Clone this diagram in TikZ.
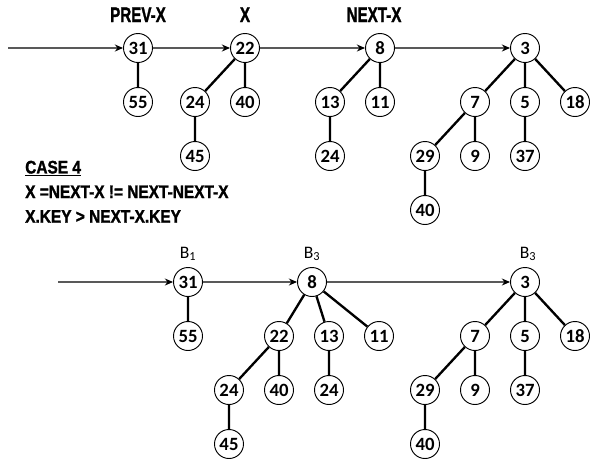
\documentclass[tikz,border=0pt]{standalone}
\usepackage{fontspec}
\setmainfont{Carlito}
\newfontfamily\impactfont{Liberation Sans}[BoldFeatures={FakeBold=1.6}]
\usetikzlibrary{arrows.meta}
\newcommand\squeeze[2]{\scalebox{#1}[1]{#2}}

\begin{document}
\begin{tikzpicture}[
        x=0.03cm, y=-0.03cm,
        key/.style={circle, draw, line width=0.8pt, minimum size=0.87cm, inner sep=0pt,
          font=\bfseries\fontsize{16}{18}\selectfont},
        tag/.style={anchor=base, inner sep=0pt, font=\impactfont\bfseries\fontsize{18}{20}\selectfont},
        blabel/.style={anchor=base, inner sep=0pt, font=\fontsize{15}{17}\selectfont},
        link/.style={draw=black!65, line width=1pt, -{Stealth[black, length=7pt, width=6pt]}},
        edge from parent/.style={draw, line width=2pt},
        sibling distance=1.5cm, level distance=1.62cm
      ]
        \useasboundingbox (0,0) rectangle (598,467);

        \node[key] (p31) at (138,48) {31}
          child { node[key] (p55) {55} };
        \node[key] (x22) at (245,48) {22}
          child {
            node[key] (x24) {24}
            child { node[key] (x45) {45} }
          }
          child { node[key] (x40) {40} }
          child[missing];
        \node[key] (n8) at (380,48) {8}
          child {
            node[key] (n13) {13}
            child { node[key] (n24) {24} }
          }
          child { node[key] (n11) {11} }
          child[missing];
        \node[key] (t3) at (525,48) {3}
          child {
            node[key] (t7) {7}
            child {
              node[key] (t29) {29}
              child { node[key] (t40) {40} }
            }
            child { node[key] (t9) {9} }
            child[missing]
          }
          child {
            node[key] (t5) {5}
            child { node[key] (t37) {37} }
          }
          child { node[key] (t18) {18} };

        \node[tag] (lprev) at (138,22) {\squeeze{0.72}{PREV-X}};
        \node[tag] (lx) at (245,22) {\squeeze{0.72}{X}};
        \node[tag] (lnext) at (374,22) {\squeeze{0.72}{NEXT-X}};

        \coordinate (in1) at (8,48);
        \draw[link] (in1) -- (p31);
        \draw[link] (p31) -- (x22);
        \draw[link] (x22) -- (n8);
        \draw[link] (n8) -- (t3);

        \node[anchor=north west, inner sep=0pt, font=\impactfont\bfseries\fontsize{15.5}{21}\selectfont] (case)
          at (25,156) {\squeeze{0.85}{\begin{tabular}{@{}l@{}} \underline{CASE 4} \\ X =NEXT-X != NEXT-NEXT-X \\ X.KEY > NEXT-X.KEY \end{tabular}}};

        \node[key] (b31) at (188,282) {31}
          child { node[key] (b55) {55} };
        \node[key] (b8) at (312,282) {8}
          child[xshift=0.51cm] {
            node[key] (b22) {22}
            child {
              node[key] (b24) {24}
              child { node[key] (b45) {45} }
            }
            child { node[key] (b40) {40} }
            child[missing]
          }
          child[xshift=0.51cm] {
            node[key] (b13) {13}
            child { node[key] (b24b) {24} }
          }
          child[xshift=0.51cm] { node[key] (b11) {11} };
        \node[key] (c3) at (525,282) {3}
          child {
            node[key] (c7) {7}
            child {
              node[key] (c29) {29}
              child { node[key] (c40) {40} }
            }
            child { node[key] (c9) {9} }
            child[missing]
          }
          child {
            node[key] (c5) {5}
            child { node[key] (c37) {37} }
          }
          child { node[key] (c18) {18} };

        \node[blabel] (lb1) at (188,258) {B\textsubscript{1}};
        \node[blabel] (lb3) at (312,258) {B\textsubscript{3}};
        \node[blabel] (lc3) at (528,258) {B\textsubscript{3}};

        \coordinate (in2) at (58,282);
        \draw[link] (in2) -- (b31);
        \draw[link] (b31) -- (b8);
        \draw[link] (b8) -- (c3);
      \end{tikzpicture}
\end{document}
